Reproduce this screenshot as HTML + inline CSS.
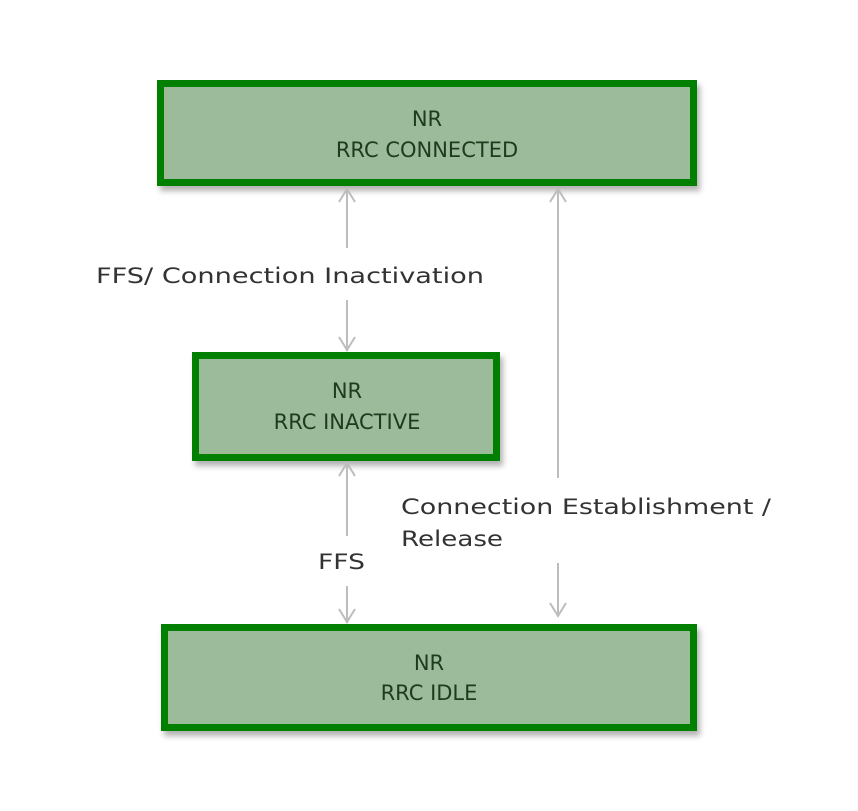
<!DOCTYPE html>
<html><head><meta charset="utf-8"><style>
html,body{margin:0;padding:0;background:#fff;width:858px;height:811px;overflow:hidden}
svg text{font-family:"DejaVu Sans","Liberation Sans",sans-serif;}
</style></head><body>
<svg width="858" height="811" viewBox="0 0 858 811" xmlns="http://www.w3.org/2000/svg">
<defs>
<filter id="sh" x="-5%" y="-10%" width="115%" height="130%"><feDropShadow dx="3" dy="5" stdDeviation="3" flood-color="#000" flood-opacity="0.3"/></filter>
</defs>
<!-- boxes -->
<g filter="url(#sh)">
<rect x="160.5" y="83.5" width="533" height="99" fill="#9bbb9a" stroke="#007f00" stroke-width="7"/>
<rect x="195.5" y="355.5" width="301" height="102" fill="#9bbb9a" stroke="#007f00" stroke-width="7"/>
<rect x="164.5" y="627.5" width="529" height="100" fill="#9bbb9a" stroke="#007f00" stroke-width="7"/>
</g>
<g fill="#1f3a1f" font-size="21" text-anchor="middle">
<text x="427" y="126">NR</text>
<text x="427" y="157">RRC CONNECTED</text>
<text x="347" y="398">NR</text>
<text x="347" y="429">RRC INACTIVE</text>
<text x="429" y="670">NR</text>
<text x="429" y="700">RRC IDLE</text>
</g>
<!-- connectors -->
<g stroke="#bdbdbd" stroke-width="2" fill="none">
<line x1="347" y1="188" x2="347" y2="248"/>
<line x1="347" y1="300" x2="347" y2="351"/>
<polyline points="339,202 347,189 355,202"/>
<polyline points="339,337 347,350 355,337"/>
<line x1="347" y1="463" x2="347" y2="536"/>
<line x1="347" y1="586" x2="347" y2="623"/>
<polyline points="339,476 347,463 355,476"/>
<polyline points="339,609 347,622 355,609"/>
<line x1="558" y1="188" x2="558" y2="478"/>
<line x1="558" y1="563" x2="558" y2="616"/>
<polyline points="550,202 558,189 566,202"/>
<polyline points="550,603 558,616 566,603"/>
</g>
<g fill="#333" font-size="21">
<text x="96" y="283" textLength="388" lengthAdjust="spacingAndGlyphs">FFS/ Connection Inactivation</text>
<text x="318" y="569" textLength="47" lengthAdjust="spacingAndGlyphs">FFS</text>
<text x="401" y="514" textLength="370" lengthAdjust="spacingAndGlyphs">Connection Establishment /</text>
<text x="401" y="546" textLength="102" lengthAdjust="spacingAndGlyphs">Release</text>
</g>
</svg>
</body></html>
